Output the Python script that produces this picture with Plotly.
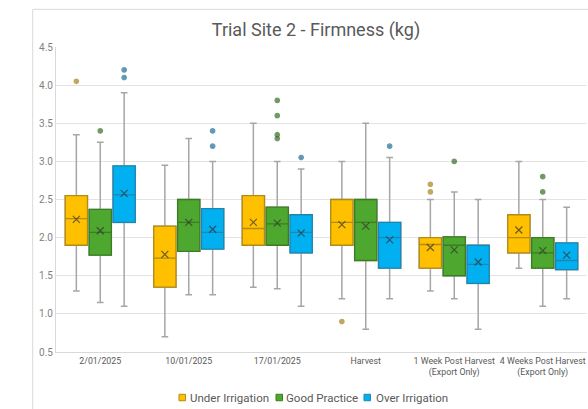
import plotly.graph_objects as go

categories = ["2/01/2025", "10/01/2025", "17/01/2025", "Harvest",
              "1 Week Post Harvest<br>(Export Only)", "4 Weeks Post Harvest<br>(Export Only)"]
series_names = ["Under Irrigation", "Good Practice", "Over Irrigation"]

# Under Irrigation
ui_lower = [1.30, 0.70, 1.35, 1.20, 1.30, 1.60]
ui_q1 = [1.90, 1.35, 1.90, 1.90, 1.60, 1.80]
ui_median = [2.25, 1.73, 2.12, 2.20, 1.91, 2.00]
ui_q3 = [2.55, 2.15, 2.55, 2.50, 2.00, 2.30]
ui_upper = [3.35, 2.95, 3.50, 3.00, 2.50, 3.00]
ui_mean = [2.24, 1.78, 2.20, 2.17, 1.87, 2.10]
ui_out_cat = [0, 3, 4, 4]
ui_out_val = [4.05, 0.90, 2.70, 2.60]

# Good Practice
gp_lower = [1.15, 1.25, 1.33, 0.80, 1.20, 1.10]
gp_q1 = [1.77, 1.82, 1.90, 1.70, 1.50, 1.60]
gp_median = [2.07, 2.20, 2.18, 2.20, 1.90, 1.80]
gp_q3 = [2.37, 2.50, 2.40, 2.50, 2.01, 2.00]
gp_upper = [3.25, 3.30, 3.00, 3.50, 2.60, 2.50]
gp_mean = [2.09, 2.20, 2.19, 2.15, 1.84, 1.83]
gp_out_cat = [0, 2, 2, 2, 2, 4, 5, 5]
gp_out_val = [3.40, 3.80, 3.60, 3.35, 3.30, 3.00, 2.80, 2.60]

# Over Irrigation
oi_lower = [1.10, 1.25, 1.10, 1.20, 0.80, 1.20]
oi_q1 = [2.20, 1.85, 1.80, 1.60, 1.40, 1.58]
oi_median = [2.56, 2.07, 2.07, 2.00, 1.65, 1.70]
oi_q3 = [2.94, 2.38, 2.30, 2.20, 1.90, 1.93]
oi_upper = [3.90, 3.00, 2.90, 3.05, 2.50, 2.40]
oi_mean = [2.58, 2.11, 2.06, 1.97, 1.68, 1.77]
oi_out_cat = [0, 0, 1, 1, 2, 3]
oi_out_val = [4.20, 4.10, 3.40, 3.20, 3.05, 3.20]

fills = ["#FFC000", "#4EA72E", "#00B0F0"]
borders = ["#B38A12", "#3A7D22", "#1C86B0"]
dots = ["#A8821C", "#356E25", "#1F6F95"]

data = [
    (ui_lower, ui_q1, ui_median, ui_q3, ui_upper, ui_mean, ui_out_cat, ui_out_val),
    (gp_lower, gp_q1, gp_median, gp_q3, gp_upper, gp_mean, gp_out_cat, gp_out_val),
    (oi_lower, oi_q1, oi_median, oi_q3, oi_upper, oi_mean, oi_out_cat, oi_out_val),
]

FONT = "Roboto, sans-serif"
BOXGAP = 0.19
GROUPGAP = 0.07

W, H = 588, 409
ML, MR, MT, MB = 56, 1, 47, 57
PW, PH = W - ML - MR, H - MT - MB


def px_x(p):
    return (p - ML) / PW


def px_y(p):
    return (H - MB - p) / PH


fig = go.Figure()

for i, (lo, q1, med, q3, up, mean, oc, ov) in enumerate(data):
    grp = f"g{i}"
    # whiskers (gray)
    fig.add_trace(go.Box(
        x=categories, q1=q1, median=med, q3=q3, lowerfence=lo, upperfence=up,
        offsetgroup=grp, name=series_names[i], showlegend=False,
        line=dict(color="#A6A6A6", width=1.5), fillcolor="rgba(0,0,0,0)",
        whiskerwidth=0.3, boxpoints=False, hoverinfo="skip",
    ))
    # box body (coloured)
    fig.add_trace(go.Box(
        x=categories, q1=q1, median=med, q3=q3, lowerfence=q1, upperfence=q3,
        offsetgroup=grp, name=series_names[i], showlegend=False,
        line=dict(color=borders[i], width=1.3), fillcolor=fills[i],
        whiskerwidth=0, boxpoints=False,
    ))

for i, (lo, q1, med, q3, up, mean, oc, ov) in enumerate(data):
    grp = f"g{i}"
    xs = list(categories) + [categories[c] for c in oc]
    ys = list(mean) + list(ov)
    symbols = ["x-thin"] * len(mean) + ["circle"] * len(ov)
    sizes = [7] * len(mean) + [4.5] * len(ov)
    colors = ["#333333"] * len(mean) + [dots[i]] * len(ov)
    fig.add_trace(go.Scatter(
        x=xs, y=ys, mode="markers", offsetgroup=grp, showlegend=False,
        marker=dict(symbol=symbols, size=sizes, color=colors,
                    line=dict(color=colors, width=1.2)),
    ))

# manual legend (compact, like the reference)
legend_x_px = [179, 276, 364]
legend_text_px = [188, 284, 374]
legend_y_px = 397.5
shapes = [dict(type="rect", xref="paper", yref="paper",
               x0=px_x(32.7), x1=1.2, y0=-0.5, y1=px_y(9.3),
               line=dict(color="#D9D9D9", width=1), layer="below")]
annotations = []
for i in range(3):
    shapes.append(dict(type="rect", xref="paper", yref="paper",
                       x0=px_x(legend_x_px[i]), x1=px_x(legend_x_px[i] + 6.5),
                       y0=px_y(legend_y_px + 3.25), y1=px_y(legend_y_px - 3.25),
                       fillcolor=fills[i], line=dict(color=borders[i], width=1)))
    annotations.append(dict(text=series_names[i], xref="paper", yref="paper",
                            x=px_x(legend_text_px[i]), y=px_y(legend_y_px),
                            xanchor="left", yanchor="middle", showarrow=False,
                            font=dict(size=11.5, color="#595959", family=FONT)))

fig.update_layout(
    width=W, height=H,
    margin=dict(l=ML, r=MR, t=MT, b=MB),
    paper_bgcolor="white", plot_bgcolor="white",
    boxmode="group", boxgap=BOXGAP, boxgroupgap=GROUPGAP,
    scattermode="group", scattergap=BOXGAP,
    showlegend=False,
    font=dict(family=FONT, color="#595959"),
    title=dict(text="Trial Site 2 - Firmness (kg)", x=316 / W, xanchor="center",
               y=1 - 30 / H, yanchor="middle", xref="container",
               font=dict(size=18, color="#595959", family=FONT)),
    shapes=shapes,
    annotations=annotations,
)
fig.update_yaxes(range=[0.5, 4.5], dtick=0.5, tickformat=".1f",
                 showgrid=True, gridcolor="#E3E3E3", gridwidth=1,
                 showline=True, linecolor="#D9D9D9", linewidth=1,
                 zeroline=False, automargin=False,
                 tickfont=dict(size=10, color="#7F7F7F"))
fig.update_xaxes(type="category", showgrid=False, showline=True,
                 linecolor="#D9D9D9", linewidth=1, tickangle=0, automargin=False,
                 tickfont=dict(size=8.8, color="#595959"))

fig.write_html("out.html",
               config={"displayModeBar": False},
               post_script="document.body.style.margin='0';document.body.style.overflow='hidden';")
